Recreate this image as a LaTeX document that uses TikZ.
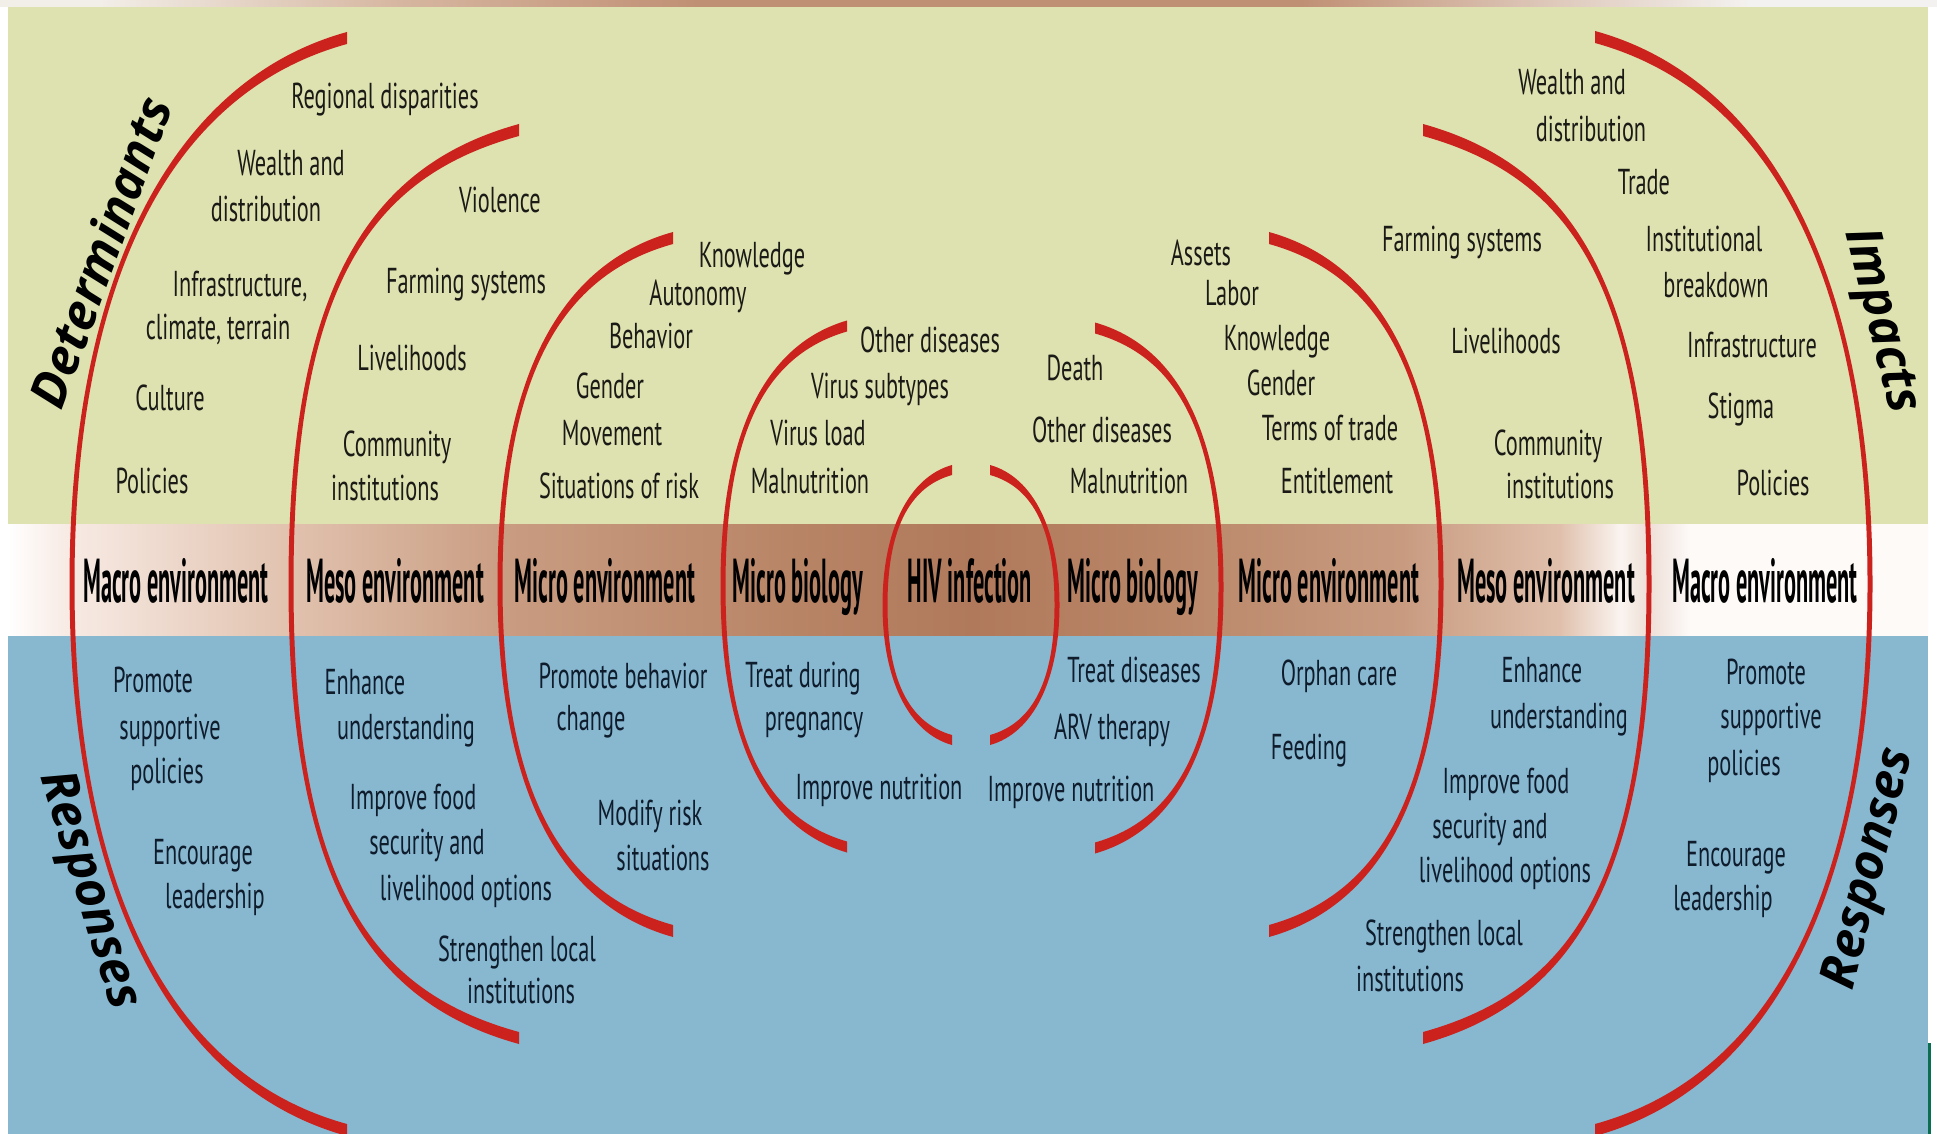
\documentclass[tikz,border=0pt]{standalone}
\usepackage{fontspec}
\newfontfamily\regf[FakeStretch=0.62]{PT Sans}
\newfontfamily\bandf[FakeStretch=0.36]{PT Sans}
\newfontfamily\rotf{Open Sans}
\definecolor{bggreen}{RGB}{221,226,176}
\definecolor{bgblue}{RGB}{136,183,208}
\definecolor{arcred}{RGB}{204,34,30}
\definecolor{txtdark}{RGB}{28,26,22}
\definecolor{txtnavy}{RGB}{14,28,44}
\definecolor{bandA}{RGB}{248,236,230}
\definecolor{bandB}{RGB}{224,192,172}
\definecolor{bandC}{RGB}{200,155,128}
\definecolor{bandD}{RGB}{184,132,102}
\definecolor{bandE}{RGB}{176,121,92}
\definecolor{bandW}{RGB}{250,244,240}
\definecolor{bandP}{RGB}{238,222,214}
\definecolor{bandZ}{RGB}{253,250,248}
\definecolor{topA}{RGB}{242,238,232}
\definecolor{topB}{RGB}{214,182,160}
\definecolor{topC}{RGB}{192,144,116}
\definecolor{topD}{RGB}{222,200,186}
\definecolor{topE}{RGB}{244,242,240}
\definecolor{edgegreen}{RGB}{10,110,80}
\pgfdeclarehorizontalshading{bandshade}{100bp}{color(0bp)=(white); color(25bp)=(white); color(26.4bp)=(bandA); color(32.6bp)=(bandB); color(38.3bp)=(bandC); color(45.6bp)=(bandD); color(50.1bp)=(bandE); color(54.5bp)=(bandD); color(61.3bp)=(bandC); color(65.4bp)=(bandB); color(67bp)=(bandW); color(67.7bp)=(bandP); color(68.8bp)=(bandZ); color(75bp)=(bandZ); color(100bp)=(bandZ)}
\pgfdeclarehorizontalshading{topshade}{100bp}{color(0bp)=(topA); color(25bp)=(topA); color(27.6bp)=(topA); color(35.3bp)=(topB); color(43bp)=(topC); color(58.6bp)=(topC); color(65bp)=(topD); color(70.2bp)=(topE); color(75bp)=(topE); color(100bp)=(topE)}
% crescent: #1 end x, #2 top y, #3 bottom y, #4 mid x, #5 mid y, #6 side sign, #7 end width, #8 mid width, #9 bulge
\newcommand{\crescent}[9]{%
\fill[arcred]
 (#1,{#2-#7/2})
 .. controls ({#1-0.65*(#1-#4)},{#2-#7/2+0.09*(#5-#2)}) and ({#4+(#6)*(#8)/2},{#5-#9*(#5-#2)}) ..
 ({#4+(#6)*(#8)/2},#5)
 .. controls ({#4+(#6)*(#8)/2},{#5+#9*(#3-#5)}) and ({#1-0.65*(#1-#4)},{#3+#7/2-0.09*(#3-#5)}) ..
 (#1,{#3+#7/2})
 -- (#1,{#3-#7/2})
 .. controls ({#1-0.65*(#1-#4)},{#3-#7/2-0.09*(#3-#5)}) and ({#4-(#6)*(#8)/2},{#5+#9*(#3-#5)}) ..
 ({#4-(#6)*(#8)/2},#5)
 .. controls ({#4-(#6)*(#8)/2},{#5-#9*(#5-#2)}) and ({#1-0.65*(#1-#4)},{#2+#7/2+0.09*(#5-#2)}) ..
 (#1,{#2+#7/2})
 -- cycle;}
\tikzset{
 lt/.style={font=\regf\fontsize{18}{20}\selectfont, text=txtdark, inner sep=0pt, anchor=base},
 lb/.style={lt, text=txtnavy},
 band/.style={font=\bandf\bfseries\fontsize{31}{33}\selectfont, text=black, inner sep=0pt, anchor=base},
 side/.style={font=\rotf\bfseries\itshape\fontsize{25}{27}\selectfont, text=black, inner sep=0pt, anchor=center}
}
\begin{document}
\begin{tikzpicture}[x=0.5pt,y=-0.5pt]
\useasboundingbox (0,0) rectangle (1937,1134);
\fill[white] (0,0) rectangle (1937,1134);
% backgrounds
\shade[shading=topshade] (0,0) rectangle (1937,7);
\fill[bggreen] (8,7) rectangle (1928,524);
\shade[shading=bandshade] (8,524) rectangle (1928,636);
\fill[bgblue] (8,636) rectangle (1928,1134);
\fill[edgegreen] (1928,1043) rectangle (1931,1134);
% arcs (left)
\crescent{347}{38}{1130}{72}{584}{-1}{12}{5}{0.55}
\crescent{519}{130}{1038}{291}{584}{-1}{12}{5}{0.66}
\crescent{673}{238}{931}{500}{584}{-1}{12}{5}{0.6}
\crescent{847}{326}{847}{723}{586}{-1}{11}{5}{0.6}
\crescent{952}{470}{740}{885}{605}{-1}{10}{5}{0.55}
% arcs (right)
\crescent{990}{470}{740}{1057}{605}{1}{10}{5}{0.55}
\crescent{1095}{328}{848}{1221}{587}{1}{11}{5}{0.6}
\crescent{1269}{238}{931}{1441}{584}{1}{12}{5}{0.6}
\crescent{1423}{130}{1038}{1649}{584}{1}{12}{5}{0.66}
\crescent{1595}{37}{1130}{1870}{584}{1}{12}{5}{0.55}
% side titles
\node[side, rotate=70] (det) at (100,252) {Determinants};
\node[side, rotate=-76] (imp) at (1880,321) {Impacts};
\node[side, rotate=-73] (resL) at (88,891) {Responses};
\node[side, rotate=76] (resR) at (1871,869) {Responses};
% band labels
\node[band] (b1) at (176,602) {Macro environment};
\node[band] (b2) at (395,602) {Meso environment};
\node[band] (b3) at (605,602) {Micro environment};
\node[band] (b4) at (798,602) {Micro biology};
\node[band] (b5) at (970,602) {HIV infection};
\node[band] (b6) at (1133,602) {Micro biology};
\node[band] (b7) at (1329,602) {Micro environment};
\node[band] (b8) at (1546,602) {Meso environment};
\node[band] (b9) at (1765,602) {Macro environment};
% determinants
\node[lt] (d1) at (385,109) {Regional disparities};
\node[lt] (d2) at (291,176) {Wealth and};
\node[lt] (d3) at (266,222) {distribution};
\node[lt] (d4) at (240,296) {Infrastructure,};
\node[lt] (d5) at (218,339) {climate, terrain};
\node[lt] (d6) at (170,410) {Culture};
\node[lt] (d7) at (152,493) {Policies};
\node[lt] (d8) at (500,213) {Violence};
\node[lt] (d9) at (466,293) {Farming systems};
\node[lt] (d10) at (412,370) {Livelihoods};
\node[lt] (d11) at (397,456) {Community};
\node[lt] (d12) at (385,500) {institutions};
\node[lt] (d13) at (752,268) {Knowledge};
\node[lt] (d14) at (698,305) {Autonomy};
\node[lt] (d15) at (651,348) {Behavior};
\node[lt] (d16) at (610,398) {Gender};
\node[lt] (d17) at (612,445) {Movement};
\node[lt] (d18) at (619,498) {Situations of risk};
\node[lt] (d19) at (930,352) {Other diseases};
\node[lt] (d20) at (880,398) {Virus subtypes};
\node[lt] (d21) at (818,445) {Virus load};
\node[lt] (d22) at (810,493) {Malnutrition};
% impacts
\node[lt] (i1) at (1075,380) {Death};
\node[lt] (i2) at (1102,442) {Other diseases};
\node[lt] (i3) at (1129,493) {Malnutrition};
\node[lt] (i4) at (1201,265) {Assets};
\node[lt] (i5) at (1232,305) {Labor};
\node[lt] (i6) at (1277,350) {Knowledge};
\node[lt] (i7) at (1281,395) {Gender};
\node[lt] (i8) at (1330,440) {Terms of trade};
\node[lt] (i9) at (1337,493) {Entitlement};
\node[lt] (i10) at (1462,252) {Farming systems};
\node[lt] (i11) at (1506,353) {Livelihoods};
\node[lt] (i12) at (1548,455) {Community};
\node[lt] (i13) at (1560,498) {institutions};
\node[lt] (i14) at (1572,95) {Wealth and};
\node[lt] (i15) at (1591,142) {distribution};
\node[lt] (i16) at (1644,195) {Trade};
\node[lt] (i17) at (1704,252) {Institutional};
\node[lt] (i18) at (1716,298) {breakdown};
\node[lt] (i19) at (1752,357) {Infrastructure};
\node[lt] (i20) at (1741,418) {Stigma};
\node[lt] (i21) at (1773,495) {Policies};
% responses left
\node[lb] (r1) at (153,692) {Promote};
\node[lb] (r2) at (170,739) {supportive};
\node[lb] (r3) at (167,783) {policies};
\node[lb] (r4) at (203,864) {Encourage};
\node[lb] (r5) at (215,908) {leadership};
\node[lb] (r6) at (365,694) {Enhance};
\node[lb] (r7) at (406,739) {understanding};
\node[lb] (r8) at (413,809) {Improve food};
\node[lb] (r9) at (427,854) {security and};
\node[lb] (r10) at (466,900) {livelihood options};
\node[lb] (r11) at (517,961) {Strengthen local};
\node[lb] (r12) at (521,1003) {institutions};
\node[lb] (r13) at (623,688) {Promote behavior};
\node[lb] (r14) at (591,730) {change};
\node[lb] (r15) at (650,825) {Modify risk};
\node[lb] (r16) at (663,870) {situations};
\node[lb] (r17) at (803,687) {Treat during};
\node[lb] (r18) at (814,730) {pregnancy};
\node[lb] (r19) at (879,799) {Improve nutrition};
% responses right
\node[lb] (s1) at (1071,801) {Improve nutrition};
\node[lb] (s2) at (1134,682) {Treat diseases};
\node[lb] (s3) at (1112,739) {ARV therapy};
\node[lb] (s4) at (1339,685) {Orphan care};
\node[lb] (s5) at (1309,759) {Feeding};
\node[lb] (s6) at (1542,682) {Enhance};
\node[lb] (s7) at (1559,728) {understanding};
\node[lb] (s8) at (1506,793) {Improve food};
\node[lb] (s9) at (1490,838) {security and};
\node[lb] (s10) at (1505,882) {livelihood options};
\node[lb] (s11) at (1444,945) {Strengthen local};
\node[lb] (s12) at (1410,991) {institutions};
\node[lb] (s13) at (1766,684) {Promote};
\node[lb] (s14) at (1771,728) {supportive};
\node[lb] (s15) at (1744,775) {policies};
\node[lb] (s16) at (1736,866) {Encourage};
\node[lb] (s17) at (1723,910) {leadership};
\end{tikzpicture}
\end{document}
